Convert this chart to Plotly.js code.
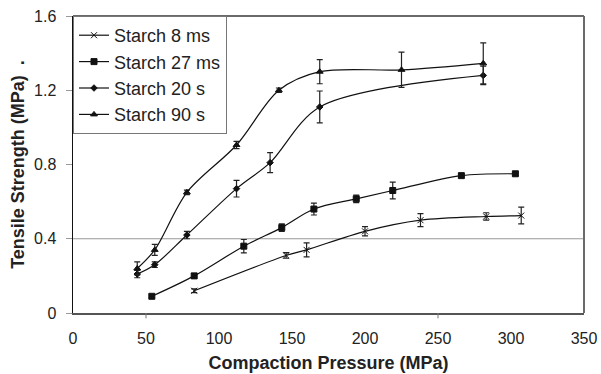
<!DOCTYPE html>
<html>
<head>
<meta charset="utf-8">
<script src="https://cdn.plot.ly/plotly-3.0.1.min.js"></script>
<style>html,body{margin:0;padding:0;background:#fff;}#chart{width:601px;height:374px;}</style>
</head>
<body>
<div id="chart"></div>
<script>
const seriesNames = ["Starch 8 ms", "Starch 27 ms", "Starch 20 s", "Starch 90 s"];

const x8ms = [83, 146, 160, 200, 238, 283, 307];
const y8ms = [0.12, 0.31, 0.34, 0.44, 0.50, 0.52, 0.525];
const e8ms = [0.01, 0.015, 0.038, 0.025, 0.035, 0.02, 0.045];

const x27ms = [54, 83, 117, 143, 165, 194, 219, 266, 303];
const y27ms = [0.09, 0.20, 0.36, 0.46, 0.56, 0.615, 0.66, 0.74, 0.75];
const e27ms = [0.008, 0.012, 0.036, 0.02, 0.032, 0.02, 0.045, 0.008, 0.01];

const x20s = [44, 56, 78, 112, 135, 169, 281];
const y20s = [0.21, 0.26, 0.42, 0.67, 0.81, 1.11, 1.28];
const e20s = [0.02, 0.015, 0.02, 0.045, 0.054, 0.086, 0.05];

const x90s = [44, 56, 78, 112, 141, 169, 225, 281];
const y90s = [0.24, 0.34, 0.65, 0.905, 1.20, 1.30, 1.31, 1.345];
const e90s = [0.035, 0.03, 0.012, 0.02, 0.012, 0.065, 0.095, 0.11];

const yTickVals = [0, 0.4, 0.8, 1.2, 1.6];
const yTickText = ["0", "0.4", "0.8", "1.2", "1.6"];
const xTickVals = [0, 50, 100, 150, 200, 250, 300, 350];

const FONT = "Liberation Sans, Arial, sans-serif";

function mk(name, x, y, e, symbol, size) {
  return {
    type: "scatter", mode: "lines+markers", name: name, x: x, y: y,
    line: {color: "#111", width: 1.2, shape: "spline", smoothing: 0.9},
    marker: {symbol: symbol, size: size, color: "#111", line: {color: "#111", width: 1}},
    error_y: {type: "data", array: e, visible: true, color: "#222", thickness: 1.2, width: 3}
  };
}

const data = [
  mk(seriesNames[0], x8ms, y8ms, e8ms, "x-thin-open", 6),
  mk(seriesNames[1], x27ms, y27ms, e27ms, "square", 6),
  mk(seriesNames[2], x20s, y20s, e20s, "diamond", 5),
  mk(seriesNames[3], x90s, y90s, e90s, "triangle-up", 6)
];

const layout = {
  width: 601, height: 374,
  margin: {l: 73, r: 17, t: 16, b: 61},
  paper_bgcolor: "#fff", plot_bgcolor: "#fff",
  font: {family: FONT, color: "#222", size: 16},
  showlegend: true,
  legend: {
    x: 0, y: 1, xanchor: "left", yanchor: "top",
    bgcolor: "#fff", bordercolor: "#777", borderwidth: 1,
    font: {family: FONT, size: 18, color: "#222"},
    tracegroupgap: 0, entrywidth: 158, entrywidthmode: "pixels"
  },
  xaxis: {
    range: [0, 350], tickvals: xTickVals, ticks: "", showgrid: false, zeroline: false,
    showline: true, linecolor: "#555", linewidth: 1.5,
    tickfont: {family: FONT, size: 16, color: "#222"},
    ticklabelstandoff: 10,
    title: {text: "Compaction Pressure (MPa)", font: {family: FONT, size: 18, color: "#222", weight: "bold"}, standoff: 10}
  },
  yaxis: {
    range: [0, 1.6], tickvals: yTickVals, ticktext: yTickText,
    ticks: "outside", ticklen: 6, tickcolor: "#999", tickwidth: 1,
    showgrid: false, zeroline: false,
    showline: true, linecolor: "#111", linewidth: 1.5,
    tickfont: {family: FONT, size: 16, color: "#222"},
    ticklabelstandoff: 6,
    title: {text: "Tensile Strength (MPa)  .", font: {family: FONT, size: 18, color: "#222", weight: "bold"}, standoff: 4}
  },
  shapes: [
    {type: "line", xref: "x", yref: "y", x0: -4, x1: 350, y0: 0.4, y1: 0.4, line: {color: "#999", width: 1.2}, layer: "below"},
    {type: "line", xref: "paper", yref: "paper", x0: 0, x1: 1, y0: 1, y1: 1, line: {color: "#6a6a6a", width: 2}},
    {type: "line", xref: "paper", yref: "paper", x0: 1, x1: 1, y0: 0, y1: 1, line: {color: "#6a6a6a", width: 2}},
    {type: "line", xref: "x", yref: "paper", x0: 50, x1: 50, y0: 0, y1: -0.018, line: {color: "#777", width: 1}},
    {type: "line", xref: "x", yref: "paper", x0: 250, x1: 250, y0: 0, y1: -0.018, line: {color: "#777", width: 1}}
  ]
};

Plotly.newPlot("chart", data, layout, {displayModeBar: false, staticPlot: true});
</script>
</body>
</html>
